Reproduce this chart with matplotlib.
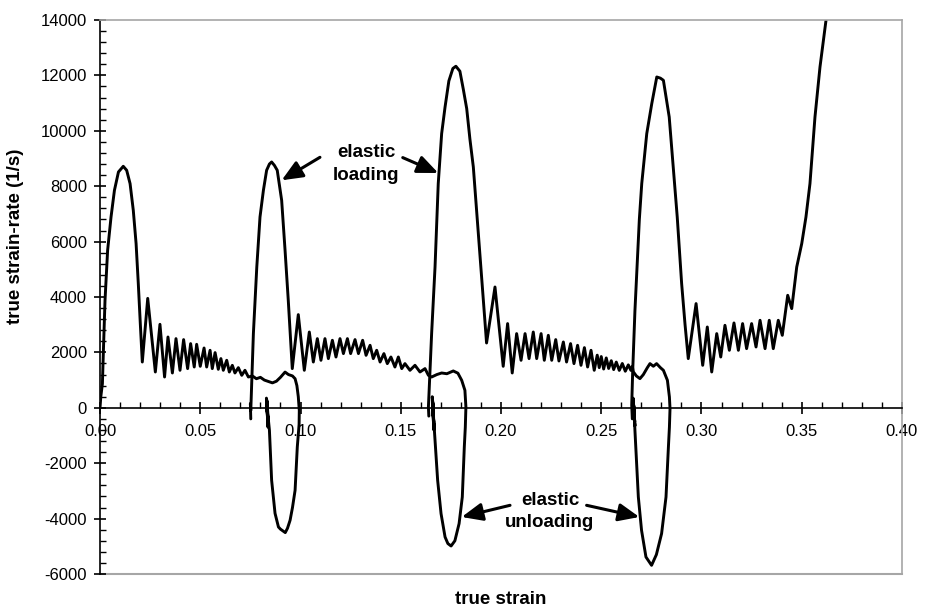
import matplotlib
matplotlib.use("Agg")
import matplotlib.pyplot as plt
from matplotlib.ticker import MultipleLocator, FormatStrFormatter

plt.rcParams['font.family'] = ['Liberation Sans', 'DejaVu Sans']
plt.rcParams['axes.unicode_minus'] = False

# loading 1 (with unloading loop back to ~0.083)
l1_x = [0.0, 0.0004, 0.0012, 0.0017, 0.0025, 0.0038, 0.0055, 0.0072, 0.0092, 0.0116, 0.0133, 0.0150,
        0.0166, 0.0180, 0.0191, 0.0201, 0.0211,
        0.0238, 0.0276, 0.0299, 0.0322, 0.0339, 0.0361, 0.0379, 0.0399, 0.0417, 0.0437, 0.0452, 0.0470,
        0.0482, 0.0500, 0.0519, 0.0532, 0.0549, 0.0560, 0.0574, 0.0590, 0.0603, 0.0615, 0.0632, 0.0645,
        0.0660, 0.0673, 0.0690, 0.0707, 0.0723, 0.0740,
        0.0760, 0.0780, 0.0800, 0.0820, 0.0840, 0.0860, 0.0880, 0.0900, 0.0923, 0.0940, 0.0960, 0.0973,
        0.0982, 0.0989, 0.0994,
        0.0993, 0.0984, 0.0973, 0.0960, 0.0948, 0.0935, 0.0924, 0.0900, 0.0890, 0.0873, 0.0856, 0.0845,
        0.0838, 0.0835, 0.0830, 0.0838, 0.0831, 0.0839, 0.0832, 0.0837, 0.0833]
l1_y = [0, 400, 872, 2076, 3881, 5686, 6888, 7852, 8514, 8718, 8574, 8093,
        7130, 5928, 4483, 3040, 1653,
        3950, 1293, 3014, 1112, 2556, 1257, 2497, 1354, 2462, 1415, 2317, 1473,
        2292, 1498, 2159, 1473, 2076, 1415, 1992, 1390, 1776, 1354, 1715, 1293,
        1534, 1257, 1450, 1173, 1354, 1112,
        1150, 1050, 1100, 1000, 950, 900, 960, 1100, 1290, 1200, 1150, 1050,
        800, 400, -100,
        -600, -1415, -2978, -3600, -4061, -4350, -4505, -4380, -4302, -3810, -2617, -812,
        -300, 0, 350, -700, 300, -600, 250, -450, 0]

# loading 2
l2_x = [0.0752, 0.0750, 0.0752, 0.0765, 0.0782, 0.0798, 0.0815, 0.0831, 0.0845, 0.0856, 0.0870, 0.0884,
        0.0906, 0.0923, 0.0939, 0.0959,
        0.0989, 0.1019, 0.1044, 0.1064, 0.1084, 0.1102, 0.1122, 0.1139, 0.1159, 0.1177, 0.1197, 0.1214,
        0.1234, 0.1250, 0.1272, 0.1289, 0.1310, 0.1327, 0.1347, 0.1363, 0.1380, 0.1397, 0.1416, 0.1433,
        0.1451, 0.1471, 0.1488, 0.1505, 0.1521, 0.1546, 0.1571, 0.1596, 0.1621, 0.1638,
        0.1654, 0.1680, 0.1704, 0.1730, 0.1762, 0.1785, 0.1804, 0.1820, 0.1825,
        0.1822, 0.1817, 0.1807, 0.1791, 0.1770, 0.1751, 0.1735, 0.1721, 0.1701, 0.1684, 0.1671, 0.1664,
        0.1662, 0.1657, 0.1665, 0.1658, 0.1666, 0.1659, 0.1664, 0.1661]
l2_y = [-400, 150, -100, 2678, 5083, 6888, 7852, 8574, 8800, 8874, 8750, 8574,
        7491, 5686, 3881, 1415,
        3364, 1354, 2736, 1653, 2497, 1715, 2497, 1776, 2437, 1834, 2497, 1957,
        2497, 1957, 2462, 1957, 2437, 1895, 2256, 1776, 2076, 1653, 1957, 1595,
        1834, 1473, 1834, 1415, 1595, 1354, 1534, 1293, 1415, 1173,
        1112, 1200, 1257, 1230, 1330, 1250, 993, 632, 30,
        -700, -1415, -3220, -4180, -4800, -4989, -4900, -4664, -3820, -2617, -1173, -400,
        0, 400, -800, 350, -700, 200, -500, 0]

# loading 3
l3_x = [0.1640, 0.1638, 0.1654, 0.1671, 0.1687, 0.1704, 0.1721, 0.1740, 0.1760, 0.1775, 0.1795, 0.1812,
        0.1829, 0.1845, 0.1862, 0.1887, 0.1912, 0.1928,
        0.1970, 0.2011, 0.2033, 0.2056, 0.2078, 0.2100, 0.2120, 0.2140, 0.2161, 0.2178, 0.2200, 0.2216,
        0.2236, 0.2253, 0.2273, 0.2289, 0.2311, 0.2327, 0.2347, 0.2364, 0.2382, 0.2399, 0.2416, 0.2432,
        0.2449, 0.2465,
        0.2480, 0.2490, 0.2500, 0.2512, 0.2525, 0.2537, 0.2550, 0.2562, 0.2575, 0.2590, 0.2605, 0.2620,
        0.2635, 0.2648, 0.2655, 0.2660, 0.2675, 0.2693, 0.2710, 0.2730, 0.2743, 0.2760, 0.2776, 0.2795,
        0.2810, 0.2830, 0.2840, 0.2843,
        0.2840, 0.2835, 0.2823, 0.2801, 0.2775, 0.2751, 0.2723, 0.2701, 0.2685, 0.2668, 0.2663,
        0.2658, 0.2667, 0.2659, 0.2668, 0.2660, 0.2665, 0.2662]
l3_y = [-300, 30, 2678, 5083, 8093, 9898, 10860, 11800, 12250, 12330, 12150, 11500,
        10800, 9700, 8693, 6287, 3881, 2340,
        4361, 1498, 3040, 1257, 2678, 1715, 2678, 1776, 2736, 1776, 2678, 1715,
        2617, 1715, 2462, 1690, 2376, 1653, 2317, 1595, 2256, 1534, 2172, 1473,
        2076, 1354,
        1900, 1450, 1850, 1400, 1800, 1420, 1700, 1380, 1650, 1350, 1600, 1320,
        1550, 1350, 1500, 1300, 1150, 1053, 1200, 1450, 1595, 1500, 1595, 1450,
        1354, 993, 390, -30,
        -700, -1415, -3220, -4541, -5300, -5686, -5386, -4422, -3220, -812, 0,
        300, -500, 350, -650, 250, -400, 0]

# loading 4 (runs off the top)
l4_x = [0.2655, 0.2652, 0.2657, 0.2668, 0.2678, 0.2690, 0.2702, 0.2727, 0.2752, 0.2777, 0.2795, 0.2810,
        0.2839, 0.2859, 0.2879, 0.2901, 0.2918, 0.2934,
        0.2973, 0.3006, 0.3029, 0.3051, 0.3076, 0.3096, 0.3117, 0.3139, 0.3162, 0.3184, 0.3205, 0.3225,
        0.3250, 0.3272, 0.3292, 0.3317, 0.3338, 0.3358, 0.3383, 0.3403, 0.3430, 0.3450, 0.3475, 0.3500,
        0.3521, 0.3541, 0.3566, 0.3591, 0.3621, 0.3630]
l4_y = [-400, 100, 1354, 3500, 5000, 6800, 8093, 9898, 10981, 11942, 11900, 11823,
        10498, 8693, 6888, 4483, 3000, 1776,
        3762, 1534, 2917, 1293, 2678, 1834, 2978, 2076, 3063, 2076, 3040, 2136,
        3040, 2196, 3159, 2136, 3159, 2136, 3159, 2617, 4061, 3581, 5083, 5928,
        6888, 8093, 10498, 12303, 13989, 14500]

series = [(l1_x, l1_y), (l2_x, l2_y), (l3_x, l3_y), (l4_x, l4_y)]

fig = plt.figure(figsize=(9.32, 6.13), dpi=100)
ax = fig.add_axes([0.1073, 0.0636, 0.8605, 0.9038])

for xs, ys in series:
    ax.plot(xs, ys, color='black', lw=2.1, solid_joinstyle='round', solid_capstyle='round')

ax.set_xlim(0, 0.40)
ax.set_ylim(-6000, 14000)
ax.xaxis.set_major_locator(MultipleLocator(0.05))
ax.xaxis.set_minor_locator(MultipleLocator(0.01))
ax.xaxis.set_major_formatter(FormatStrFormatter('%.2f'))
ax.yaxis.set_major_locator(MultipleLocator(2000))
ax.yaxis.set_minor_locator(MultipleLocator(400))

ax.spines['bottom'].set_position(('data', 0))
ax.spines['bottom'].set_linewidth(1.2)
ax.spines['left'].set_linewidth(1.2)
for s in ['top', 'right']:
    ax.spines[s].set_color('#a6a6a6')
    ax.spines[s].set_linewidth(1.2)
ax.axhline(-6000, color='#a6a6a6', lw=1.5, clip_on=False, zorder=0)

ax.tick_params(axis='x', which='major', direction='inout', length=8, width=1.2, pad=8, labelsize=12)
ax.tick_params(axis='x', which='minor', direction='in', length=4, width=1.0)
ax.tick_params(axis='y', which='major', direction='inout', length=9, width=1.2, pad=5, labelsize=12)
ax.tick_params(axis='y', which='minor', direction='in', length=4, width=1.0)

fig.text(0.5375, 1 - 600 / 613, 'true strain', ha='center', va='center',
         fontsize=13.5, fontweight='bold')
fig.text(16 / 932, 1 - 236 / 613, 'true strain-rate (1/s)', ha='center', va='center',
         rotation=90, fontsize=13.5, fontweight='bold')

arrow = dict(arrowstyle='-|>,head_length=0.7,head_width=0.3', lw=2.2, color='black',
             shrinkA=0, shrinkB=0, mutation_scale=18)
ax.text(0.1327, 8800, 'elastic\nloading', ha='center', va='center', fontsize=13.5,
        fontweight='bold', linespacing=1.4)
ax.annotate('', xy=(0.0906, 8213), xytext=(0.1097, 9043), arrowprops=arrow)
ax.annotate('', xy=(0.1687, 8476), xytext=(0.1510, 9032), arrowprops=arrow)

ax.text(0.2244, -3730, 'elastic\nunloading', ha='center', va='center', fontsize=13.5,
        fontweight='bold', linespacing=1.4)
ax.annotate('', xy=(0.1804, -3942), xytext=(0.2045, -3520), arrowprops=arrow)
ax.annotate('', xy=(0.2690, -3942), xytext=(0.2427, -3520), arrowprops=arrow)

fig.savefig('out.png', dpi=100)
